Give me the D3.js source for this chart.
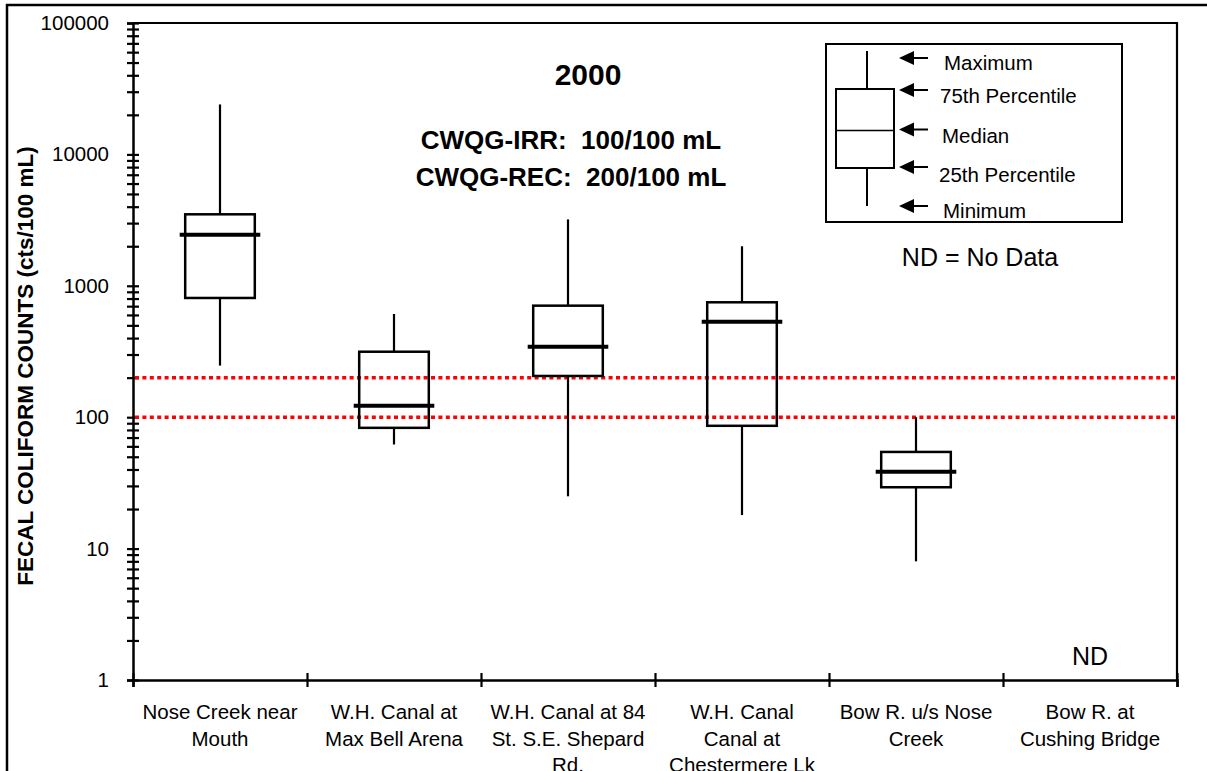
<!DOCTYPE html>
<html>
<head>
<meta charset="utf-8">
<script src="https://cdn.jsdelivr.net/npm/d3@7"></script>
<style>
  html, body { margin: 0; padding: 0; background: #fff; }
  svg { display: block; font-family: Arial, "Liberation Sans", sans-serif; }
  .pre { white-space: pre; }
</style>
</head>
<body>
<svg id="chart" width="1207" height="771"></svg>
<script>
// Sampling stations (label lines)
const stations = [
  ["Nose Creek near", "Mouth"],
  ["W.H. Canal at", "Max Bell Arena"],
  ["W.H. Canal at 84", "St. S.E. Shepard", "Rd."],
  ["W.H. Canal", "Canal at", "Chestermere Lk"],
  ["Bow R. u/s Nose", "Creek"],
  ["Bow R. at", "Cushing Bridge"]
];
// Box statistics per station (cts/100 mL); null = no data
const minimum    = [247,   62,   25,   18,   8,    null];
const pct25      = [808,   83,   206,  86,   29.3, null];
const median     = [2450,  122,  344,  533,  38.5, null];
const pct75      = [3500,  315,  706,  749,  54.4, null];
const maximum    = [24000, 610,  3200, 2000, 100,  null];

// Water quality guidelines
const guidelines = [100, 200];
const guidelineText = ["CWQG-IRR:  100/100 mL", "CWQG-REC:  200/100 mL"];

// Y axis tick values and legend entries
const yMajor = [1, 10, 100, 1000, 10000, 100000];
const legendItems = ["Maximum", "75th Percentile", "Median", "25th Percentile", "Minimum"];

const svg = d3.select("#chart");
const L = 133, R = 1177, T = 23, B = 680;

const keys = stations.map((s, i) => "s" + i);
const x = d3.scaleBand().domain(keys).range([L, R]);
const xEdge = d3.scaleLinear().domain([0, stations.length]).range([L, R]);
const y = d3.scaleLog().domain([1, 100000]).range([B, T]);

// Outer frame
svg.append("rect").attr("x", 7).attr("y", 5).attr("width", 1220).attr("height", 800)
  .attr("fill", "none").attr("stroke", "#000").attr("stroke-width", 2.5);

// Plot frame (top and right)
svg.append("path").attr("d", `M${L},${T}H${R}V${B}`)
  .attr("fill", "none").attr("stroke", "#000").attr("stroke-width", 2.2);

// Y axis: all 1-9 ticks per decade, labels on powers of ten
const yTicks = [];
for (let e = 0; e < 5; e++) for (let m = 1; m < 10; m++) yTicks.push(m * Math.pow(10, e));
yTicks.push(100000);
const yAxis = svg.append("g").attr("transform", `translate(${L},0)`)
  .call(d3.axisLeft(y).tickValues(yTicks)
    .tickFormat(d => yMajor.includes(d) ? String(d) : "")
    .tickSize(6).tickPadding(18));
yAxis.select(".domain").attr("stroke", "#000").attr("stroke-width", 2.5);
yAxis.selectAll(".tick line").attr("x1", 6).attr("x2", -6).attr("stroke", "#000").attr("stroke-width", 2.2);
yAxis.selectAll(".tick text").attr("font-size", 20.5).attr("fill", "#000")
  .attr("font-family", "Arial, 'Liberation Sans', sans-serif");

// X axis with ticks at category boundaries
const xAxis = svg.append("g").attr("transform", `translate(0,${B})`)
  .call(d3.axisBottom(xEdge).tickValues(d3.range(stations.length + 1)).tickFormat("").tickSize(7));
xAxis.select(".domain").attr("stroke", "#000").attr("stroke-width", 2.5);
xAxis.selectAll(".tick line").attr("y1", -7).attr("y2", 7).attr("stroke", "#000").attr("stroke-width", 2.2);

// Category labels
stations.forEach((lines, i) => {
  const t = svg.append("text").attr("text-anchor", "middle").attr("font-size", 20.5).attr("fill", "#000");
  lines.forEach((ln, j) => {
    t.append("tspan").attr("x", x(keys[i]) + x.bandwidth() / 2).attr("y", 719 + j * 26.6).text(ln);
  });
});

// Y axis title
svg.append("text")
  .attr("transform", `translate(33,366) rotate(-90)`)
  .attr("text-anchor", "middle").attr("font-size", 22.5).attr("font-weight", "bold")
  .text("FECAL COLIFORM COUNTS (cts/100 mL)");

// Guideline lines
svg.append("g").selectAll("line").data(guidelines).join("line")
  .attr("x1", L + 2).attr("x2", R - 2)
  .attr("y1", d => y(d)).attr("y2", d => y(d))
  .attr("stroke", "#ff0000").attr("stroke-width", 3.5).attr("stroke-dasharray", "4,3.4");

// Box plots
const boxW = x.bandwidth() * 0.4;
const medW = boxW + 11;
const boxes = svg.append("g");
stations.forEach((s, i) => {
  if (median[i] == null) return;
  const cx = x(keys[i]) + x.bandwidth() / 2;
  const g = boxes.append("g").attr("stroke", "#000").attr("fill", "none");
  g.append("line").attr("x1", cx).attr("x2", cx).attr("y1", y(maximum[i])).attr("y2", y(pct75[i])).attr("stroke-width", 2.2);
  g.append("line").attr("x1", cx).attr("x2", cx).attr("y1", y(pct25[i])).attr("y2", y(minimum[i])).attr("stroke-width", 2.2);
  g.append("rect").attr("x", cx - boxW / 2).attr("width", boxW)
    .attr("y", y(pct75[i])).attr("height", y(pct25[i]) - y(pct75[i]))
    .attr("stroke-width", 2.5);
  g.append("line").attr("x1", cx - medW / 2).attr("x2", cx + medW / 2)
    .attr("y1", y(median[i])).attr("y2", y(median[i])).attr("stroke-width", 4);
});

// No-data marker
stations.forEach((s, i) => {
  if (median[i] != null) return;
  svg.append("text").attr("x", x(keys[i]) + x.bandwidth() / 2).attr("y", 665)
    .attr("text-anchor", "middle").attr("font-size", 25).text("ND");
});

// Titles
svg.append("text").attr("x", 588).attr("y", 85).attr("text-anchor", "middle")
  .attr("font-size", 30).attr("font-weight", "bold").text("2000");
guidelineText.forEach((t, j) => {
  svg.append("text").attr("class", "pre").attr("x", 571).attr("y", 149 + j * 36.5).attr("text-anchor", "middle")
    .attr("font-size", 26).attr("font-weight", "bold").text(t);
});

// Legend
const lg = svg.append("g");
lg.append("rect").attr("x", 826).attr("y", 44).attr("width", 296).attr("height", 178)
  .attr("fill", "#fff").attr("stroke", "#000").attr("stroke-width", 2);
const lw = 867;
lg.append("line").attr("x1", lw).attr("x2", lw).attr("y1", 51).attr("y2", 89).attr("stroke", "#000").attr("stroke-width", 2);
lg.append("line").attr("x1", lw).attr("x2", lw).attr("y1", 168).attr("y2", 206).attr("stroke", "#000").attr("stroke-width", 2);
lg.append("rect").attr("x", 836).attr("y", 89).attr("width", 58).attr("height", 79)
  .attr("fill", "none").attr("stroke", "#000").attr("stroke-width", 2);
lg.append("line").attr("x1", 836).attr("x2", 894).attr("y1", 130.5).attr("y2", 130.5).attr("stroke", "#000").attr("stroke-width", 1.6);
const arrowY = [58, 90, 129.5, 167, 206];
const labelY = [63, 96, 136, 175, 211];
const labelX = [944, 940, 942, 939, 943];
legendItems.forEach((t, j) => {
  const ay = arrowY[j];
  lg.append("line").attr("x1", 910).attr("x2", 928).attr("y1", ay).attr("y2", ay).attr("stroke", "#000").attr("stroke-width", 2);
  lg.append("path").attr("d", `M899,${ay}L914,${ay - 7}L914,${ay + 7}Z`).attr("fill", "#000");
  lg.append("text").attr("x", labelX[j]).attr("y", labelY[j] + 7).attr("font-size", 20.5).text(t);
});
svg.append("text").attr("x", 980).attr("y", 266).attr("text-anchor", "middle")
  .attr("font-size", 25).text("ND = No Data");
</script>
</body>
</html>
